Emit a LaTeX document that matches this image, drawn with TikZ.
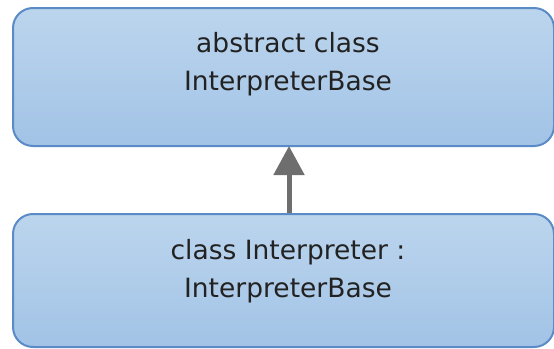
\documentclass[tikz,border=0pt]{standalone}
\usepackage{fontspec}
\setmainfont{DejaVu Sans}
\usetikzlibrary{arrows.meta}
\definecolor{boxtop}{HTML}{BCD5ED}
\definecolor{boxbot}{HTML}{A2C3E6}
\definecolor{boxline}{HTML}{5B8BC7}
\definecolor{arrgray}{HTML}{6E6E6E}
\definecolor{txtcol}{HTML}{222222}
\tikzset{
  umlbox/.style={draw=boxline, line width=2pt, rounded corners=20pt,
    top color=boxtop, bottom color=boxbot, minimum width=541pt,
    inner sep=0pt, anchor=north west},
  boxtext/.style={align=center, text=txtcol, inner sep=0pt,
    font=\fontsize{26.5pt}{38pt}\selectfont},
  inherit/.style={draw=arrgray, line width=5pt,
    -{Triangle[width=30pt,length=29pt]}}
}
\begin{document}
\begin{tikzpicture}[x=1pt,y=-1pt]
\useasboundingbox (0,0) rectangle (554,348);
\node[umlbox, minimum height=138pt] (base) at (12,7) {};
\node[umlbox, minimum height=133pt] (interp) at (12,213) {};
\node[boxtext] (basetext) at (288,64) {abstract class\\InterpreterBase};
\node[boxtext] (interptext) at (288,271) {class Interpreter :\\InterpreterBase};
\draw[inherit] ([xshift=5.5pt]interp.north) -- ([xshift=5.5pt,yshift=1pt]base.south);
\end{tikzpicture}
\end{document}
